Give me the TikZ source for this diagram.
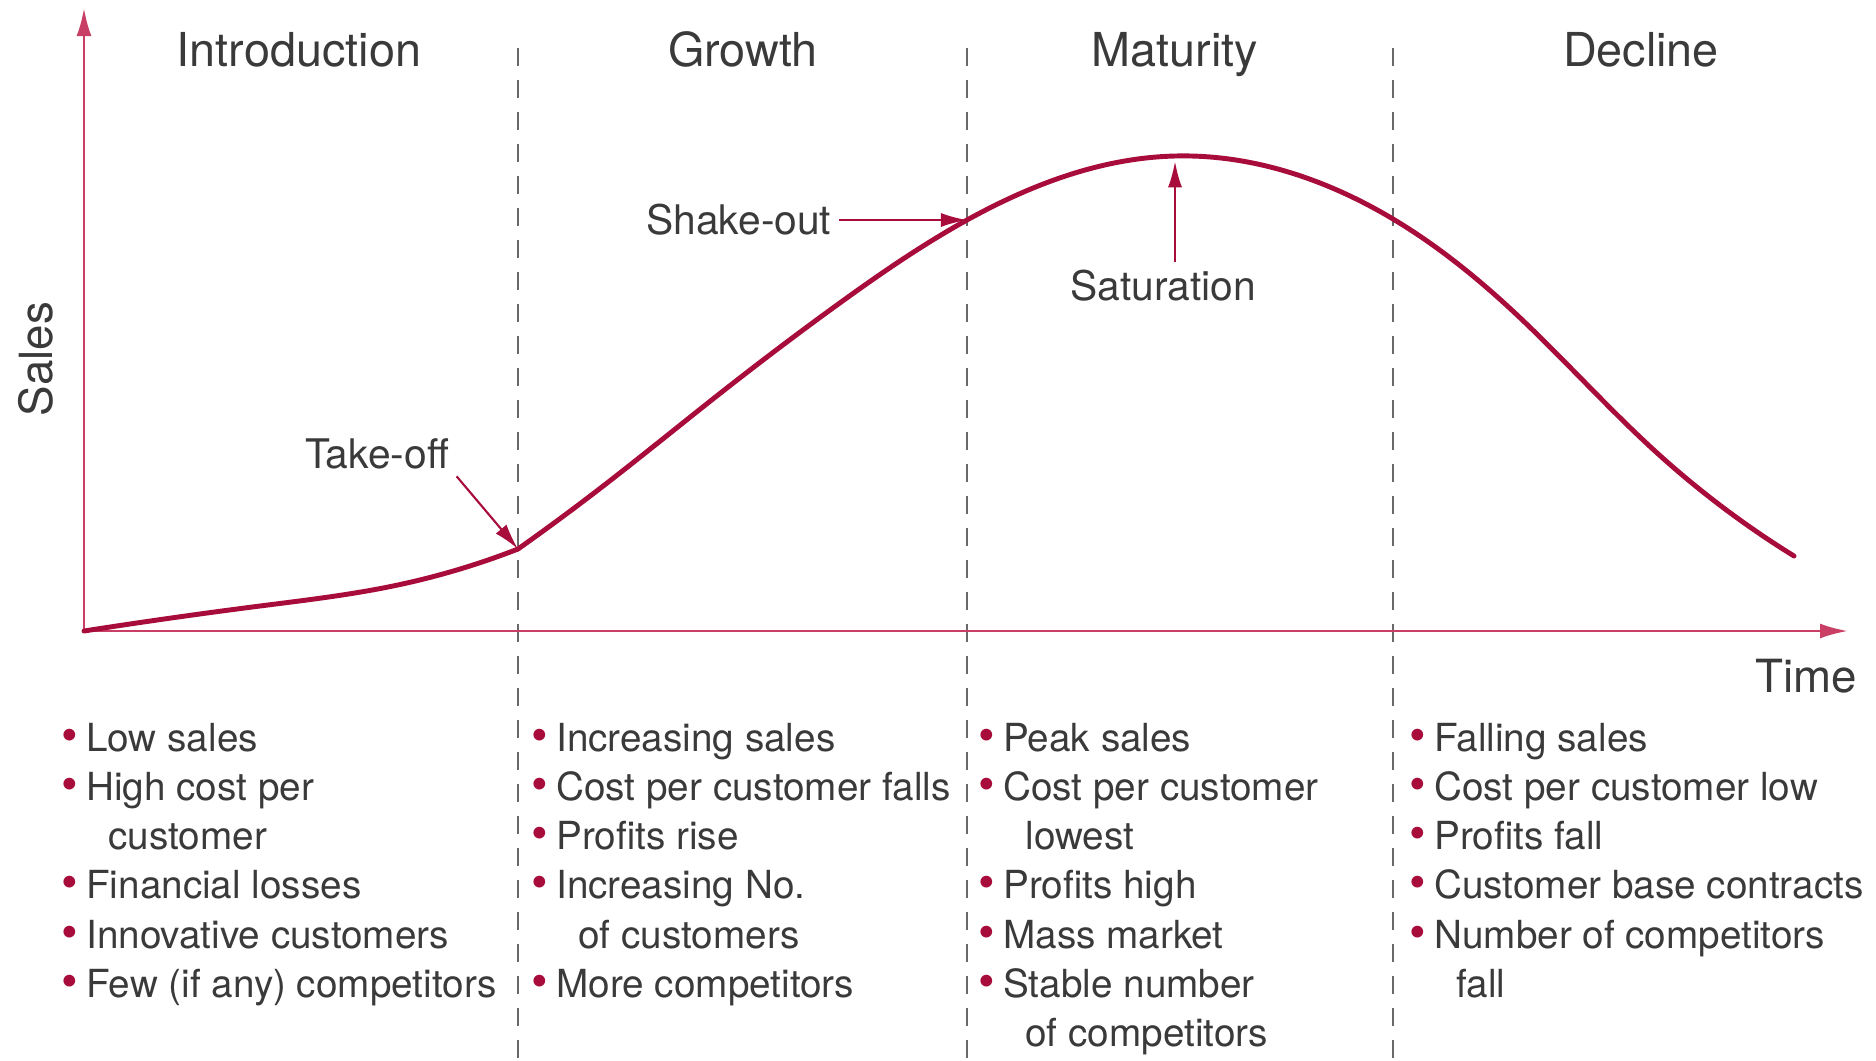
\documentclass[tikz,border=0pt]{standalone}
\usepackage{fontspec}
\setmainfont{TeX Gyre Heros}
\usepackage{tikz}
\usetikzlibrary{arrows.meta,hobby}
\definecolor{crimson}{RGB}{168,12,58}
\definecolor{lightcrimson}{RGB}{200,62,100}
\definecolor{textgray}{RGB}{58,58,58}
\definecolor{dashgray}{RGB}{105,105,105}

% bullet and indent for the stage lists
\newcommand{\bul}{\makebox[7pt][l]{\textcolor{crimson}{\fontsize{13.5}{13.5}\selectfont\textbullet}}}
\newcommand{\cont}{\hspace*{13.3pt}}

\begin{document}
\begin{tikzpicture}[x=0.01cm, y=-0.01cm, use Hobby shortcut,
		salesaxis/.style={line width=0.8pt, color=lightcrimson, -{Latex[length=2.8mm,width=1.5mm]}},
		phase/.style={line width=0.6pt, color=dashgray, dash pattern=on 5.1pt off 4pt},
		lifecurve/.style={line width=1.4pt, color=crimson, line cap=round, line join=round},
		annot/.style={line width=0.6pt, color=crimson, -{Latex[length=2.6mm,width=1.4mm]}},
		heading/.style={text=textgray, font=\fontsize{13.3}{16}\selectfont, anchor=base},
		axislbl/.style={text=textgray, font=\fontsize{13}{16}\selectfont, anchor=base},
		notelbl/.style={text=textgray, font=\fontsize{11.6}{14}\selectfont, inner sep=2pt},
		bullets/.style={text=textgray, font=\fontsize{11}{13.94}\selectfont, align=left, anchor=north west, inner sep=0pt}]

		\useasboundingbox (0,0) rectangle (1876,1060);

		% stage borders
		\foreach \x in {518,967,1393}
			\draw[phase] (\x,48) -- (\x,1060);

		% axes
		\coordinate (origin) at (84,631);
		\coordinate (ytop) at (84,8);
		\coordinate (xend) at (1848,631);
		\draw[salesaxis] (origin) -- (ytop);
		\draw[salesaxis] (origin) -- (xend);
		\node[axislbl, rotate=90] (sales) at (52,359) {Sales};
		\node[axislbl] (time) at (1806,692) {Time};

		% life cycle curve
		\coordinate (takeoff) at (518,549);
		\coordinate (shakeout) at (967,220);
		\coordinate (peak) at (1175,156);
		\draw[lifecurve] (origin) .. (260,606) .. (393,586) .. (takeoff);
		\draw[lifecurve] (takeoff) .. (598,490) .. (718,395) .. (837,305) .. (shakeout) .. (peak) .. (1393,219) .. (1516,314) .. (1656,452) .. (1794,556);

		% stage names
		\node[heading] (intro) at (299,66) {Introduction};
		\node[heading] (growth) at (743,66) {Growth};
		\node[heading] (maturity) at (1175,66) {Maturity};
		\node[heading] (decline) at (1641,66) {Decline};

		% curve annotations
		\node[notelbl, anchor=base] (takeofflbl) at (377,468) {Take-off};
		\draw[annot] (takeofflbl.south east) -- (takeoff);
		\node[notelbl, anchor=east] (shakelbl) at (839,220) {Shake-out};
		\draw[annot] (shakelbl) -- (shakeout);
		\node[notelbl, anchor=north] (satlbl) at (1163,262) {Saturation};
		\draw[annot, shorten >=1.5pt] (satlbl.north -| peak) -- (peak);

		% stage features
		\node[bullets] (introlist) at (61,723) {\bul Low sales\\ \bul High cost per\\ \cont customer\\ \bul Financial losses\\ \bul Innovative customers\\ \bul Few (if any) competitors};
		\node[bullets] (growthlist) at (531,723) {\bul Increasing sales\\ \bul Cost per customer falls\\ \bul Profits rise\\ \bul Increasing No.\\ \cont of customers\\ \bul More competitors};
		\node[bullets] (maturitylist) at (978,723) {\bul Peak sales\\ \bul Cost per customer\\ \cont lowest\\ \bul Profits high\\ \bul Mass market\\ \bul Stable number\\ \cont of competitors};
		\node[bullets] (declinelist) at (1409,723) {\bul Falling sales\\ \bul Cost per customer low\\ \bul Profits fall\\ \bul Customer base contracts\\ \bul Number of competitors\\ \cont fall};

\end{tikzpicture}
\end{document}
